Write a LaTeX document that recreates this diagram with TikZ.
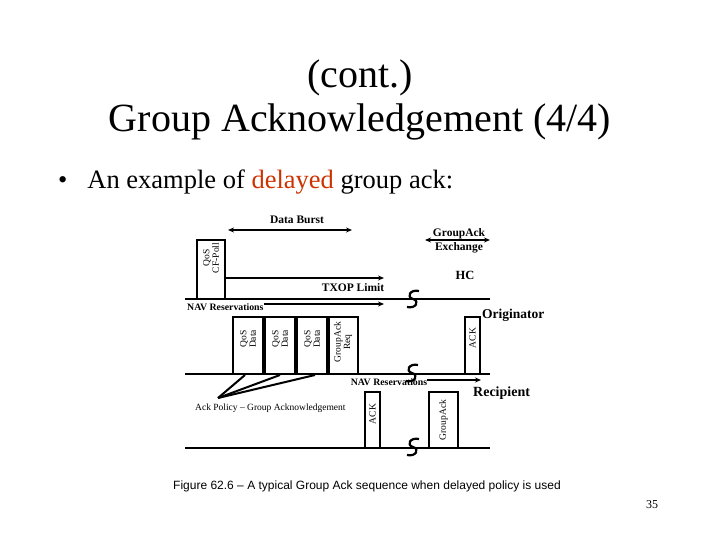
\documentclass[tikz,border=0pt]{standalone}
\usepackage{fontspec}
\setmainfont{Liberation Serif}
\newfontfamily\arialfont{Liberation Sans}
\usetikzlibrary{arrows.meta,calc}
\definecolor{delayred}{RGB}{204,51,0}
\tikzset{
  thickline/.style={line width=1.7pt},
  pktbox/.style={draw, line width=1.7pt},
  pktlabel/.style={rotate=90, align=center, inner sep=0pt, font=\fontsize{9.5}{9.5}\selectfont},
  boldlab/.style={inner sep=0pt, font=\fontsize{11.5}{12}\selectfont\bfseries},
  smallbold/.style={inner sep=0pt, font=\fontsize{9.8}{10}\selectfont\bfseries},
  rolelab/.style={inner sep=0pt, font=\fontsize{13.5}{14}\selectfont\bfseries},
  arr/.style={line width=1.3pt, -{Stealth[length=6pt,width=5pt]}},
  dblarr/.style={line width=1.3pt, {Stealth[length=6pt,width=5pt]}-{Stealth[length=6pt,width=5pt]}},
  breakmark/.style={line width=2.2pt},
}
\newcommand{\brk}[1]{\draw[breakmark] ($(#1)+(6,-8)$) .. controls ($(#1)+(-3,-10)$) and ($(#1)+(-7,-2)$) .. ($(#1)+(0,0)$) .. controls ($(#1)+(7,2)$) and ($(#1)+(3,10)$) .. ($(#1)+(-6,8)$);}
\begin{document}
\begin{tikzpicture}[x=1pt,y=-1pt]
\useasboundingbox (0,0) rectangle (720,540);
% title
\node[font=\fontsize{40}{44}\selectfont] (t1) at (360,78) {(cont.)};
\node[font=\fontsize{40}{44}\selectfont] (t2) at (360,122) {Group Acknowledgement (4/4)};
\node[font=\fontsize{26.5}{30}\selectfont, anchor=base west, inner sep=0pt] (bul) at (58,189) {\textbullet\hspace{20pt}An example of \textcolor{delayred}{delayed} group ack:};
% lines
\coordinate (oL) at (185,299); \coordinate (oR) at (490,299);
\coordinate (mL) at (185,374); \coordinate (mR) at (490,374);
\coordinate (rL) at (185,448); \coordinate (rR) at (490,448);
\draw[thickline] (oL) -- (oR);
\draw[thickline] (mL) -- (mR);
\draw[thickline] (rL) -- (rR);
% QoS CF-Poll
\draw[pktbox] (197,299) |- (225,240) -- (225,299);
\node[pktlabel] (cfp) at (211,258) {QoS\\CF-Poll};
% Data burst
\coordinate (db1) at (228,230); \coordinate (db2) at (352,230);
\draw[dblarr] (db1) -- (db2);
\node[boldlab] (dbt) at (297,220) {Data Burst};
% TXOP
\coordinate (tx1) at (225,278); \coordinate (tx2) at (384,278);
\draw[arr] (tx1) -- (tx2);
\node[boldlab] (txt) at (353,288) {TXOP Limit};
% NAV 1
\node[smallbold, anchor=west] (nav1) at (187,307) {NAV Reservations};
\coordinate (nv1e) at (384,304);
\draw[arr] (nav1.east |- nv1e) -- (nv1e);
% GroupAck exchange
\coordinate (ge1) at (425,240); \coordinate (ge2) at (490,240);
\draw[dblarr] (ge1) -- (ge2);
\node[boldlab] (gat) at (459,234) {GroupAck};
\node[boldlab] (get) at (459,248) {Exchange};
\node[rolelab, font=\fontsize{12.5}{13}\selectfont\bfseries] (hc) at (465,275) {HC};
\node[rolelab, anchor=west] (orig) at (482,315) {Originator};
% data boxes
\draw[pktbox] (233,374) |- (263,317) -- (263,374);
\node[pktlabel] (d1) at (248,339) {QoS\\Data};
\draw[pktbox] (265,374) |- (295,317) -- (295,374);
\node[pktlabel] (d2) at (280,339) {QoS\\Data};
\draw[pktbox] (297,374) |- (327,317) -- (327,374);
\node[pktlabel] (d3) at (312,339) {QoS\\Data};
\draw[pktbox] (329,374) |- (358,317) -- (358,374);
\node[pktlabel] (d4) at (343,342) {GroupAck\\Req};
% ACK originator
\draw[pktbox] (465,374) |- (480,317) -- (480,374);
\node[pktlabel] (a1) at (472.5,338) {ACK};
% NAV 2
\node[smallbold] (nav2) at (389,382) {NAV Reservations};
\coordinate (nv2e) at (481,380);
\draw[arr] (nav2.east |- nv2e) -- (nv2e);
\node[rolelab, font=\fontsize{14}{14}\selectfont\bfseries, anchor=west] (rec) at (473,393) {Recipient};
% recipient boxes
\draw[pktbox] (365,448) |- (380,392) -- (380,448);
\node[pktlabel] (a2) at (372.5,414) {ACK};
\draw[pktbox] (429,448) |- (458,392) -- (458,448);
\node[pktlabel] (ga) at (443.5,420) {GroupAck};
% ack policy
\node[inner sep=0pt, anchor=west, font=\fontsize{9.5}{10}\selectfont] (ap) at (195,408) {Ack Policy – Group Acknowledgement};
\coordinate (apx) at (218,398);
\coordinate (p1) at (245,375); \coordinate (p2) at (280,375); \coordinate (p3) at (315,375);
\draw[line width=2pt] (apx) -- (p1);
\draw[line width=2pt] (apx) -- (p2);
\draw[line width=2pt] (apx) -- (p3);
% break marks
\coordinate (b1) at (413,299); \coordinate (b2) at (412,373); \coordinate (b3) at (413,447);
\brk{b1} \brk{b2} \brk{b3}
% caption
\node[font=\arialfont\fontsize{12}{13}\selectfont] (cap) at (367,486) {Figure 62.6 – A typical Group Ack sequence when delayed policy is used};
\node[font=\fontsize{12}{12}\selectfont] (pg) at (652,505) {35};
\end{tikzpicture}
\end{document}
